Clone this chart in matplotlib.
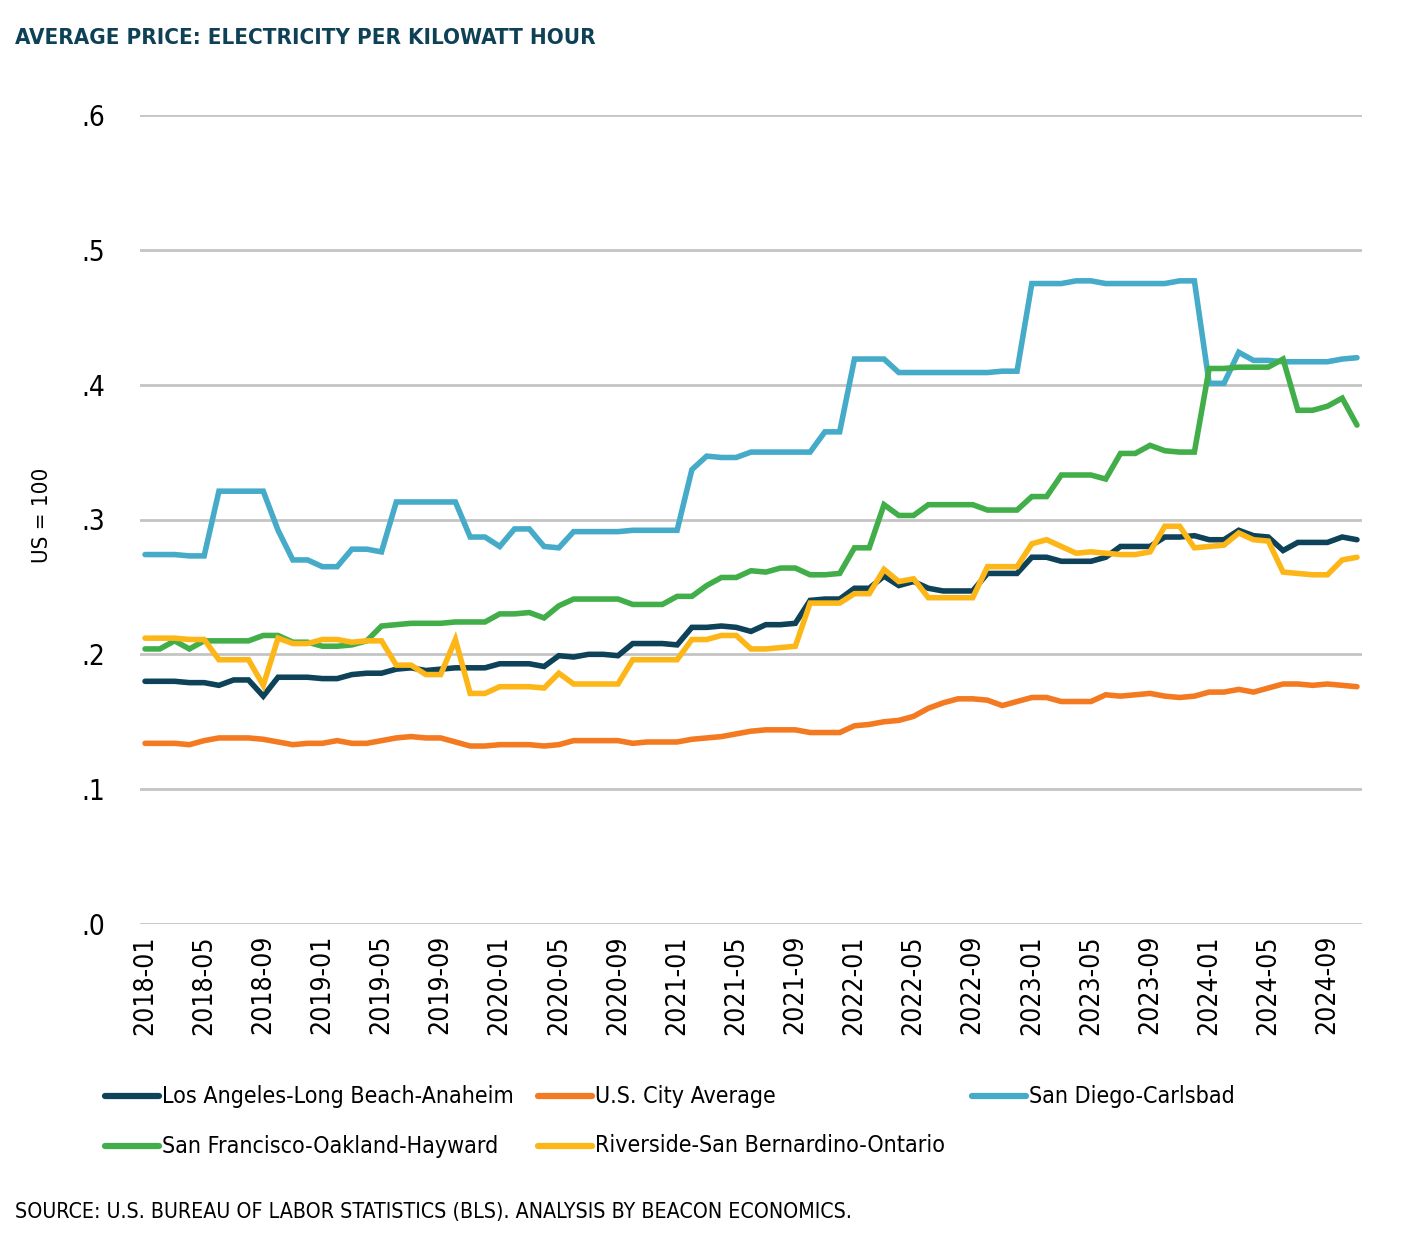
import numpy as np
import matplotlib
matplotlib.use("Agg")
import matplotlib.pyplot as plt
from matplotlib import font_manager
from matplotlib.lines import Line2D

# --- data (2018-01 .. 2024-11, monthly, $ per kWh) ---
months = [f"{y}-{m:02d}" for y in range(2018, 2025) for m in range(1, 13)][:83]

la = [.180, .180, .180, .179, .179, .177, .181, .181, .169, .183, .183, .183, .182, .182,
      .185, .186, .186, .189, .190, .188, .189, .190, .190, .190, .193, .193, .193, .191,
      .199, .198, .200, .200, .199, .208, .208, .208, .207, .220, .220, .221, .220, .217,
      .222, .222, .223, .240, .241, .241, .249, .249, .258, .251, .254, .249, .247, .247,
      .247, .260, .260, .260, .272, .272, .269, .269, .269, .272, .280, .280, .280, .287,
      .287, .288, .285, .285, .292, .288, .287, .277, .283, .283, .283, .287, .285]

us = [.134, .134, .134, .133, .136, .138, .138, .138, .137, .135, .133, .134, .134, .136,
      .134, .134, .136, .138, .139, .138, .138, .135, .132, .132, .133, .133, .133, .132,
      .133, .136, .136, .136, .136, .134, .135, .135, .135, .137, .138, .139, .141, .143,
      .144, .144, .144, .142, .142, .142, .147, .148, .150, .151, .154, .160, .164, .167,
      .167, .166, .162, .165, .168, .168, .165, .165, .165, .170, .169, .170, .171, .169,
      .168, .169, .172, .172, .174, .172, .175, .178, .178, .177, .178, .177, .176]

sd = [.274, .274, .274, .273, .273, .321, .321, .321, .321, .292, .270, .270, .265, .265,
      .278, .278, .276, .313, .313, .313, .313, .313, .287, .287, .280, .293, .293, .280,
      .279, .291, .291, .291, .291, .292, .292, .292, .292, .337, .347, .346, .346, .350,
      .350, .350, .350, .350, .365, .365, .419, .419, .419, .409, .409, .409, .409, .409,
      .409, .409, .410, .410, .475, .475, .475, .477, .477, .475, .475, .475, .475, .475,
      .477, .477, .401, .401, .424, .418, .418, .417, .417, .417, .417, .419, .420]

sf = [.204, .204, .210, .204, .210, .210, .210, .210, .214, .214, .209, .209, .206, .206,
      .207, .210, .221, .222, .223, .223, .223, .224, .224, .224, .230, .230, .231, .227,
      .236, .241, .241, .241, .241, .237, .237, .237, .243, .243, .251, .257, .257, .262,
      .261, .264, .264, .259, .259, .260, .279, .279, .311, .303, .303, .311, .311, .311,
      .311, .307, .307, .307, .317, .317, .333, .333, .333, .330, .349, .349, .355, .351,
      .350, .350, .412, .412, .413, .413, .413, .419, .381, .381, .384, .390, .370]

rv = [.212, .212, .212, .211, .211, .196, .196, .196, .177, .212, .208, .208, .211, .211,
      .209, .210, .210, .192, .192, .185, .185, .211, .171, .171, .176, .176, .176, .175,
      .186, .178, .178, .178, .178, .196, .196, .196, .196, .211, .211, .214, .214, .204,
      .204, .205, .206, .238, .238, .238, .245, .245, .263, .254, .256, .242, .242, .242,
      .242, .265, .265, .265, .282, .285, .280, .275, .276, .275, .274, .274, .276, .295,
      .295, .279, .280, .281, .290, .285, .284, .261, .260, .259, .259, .270, .272]

names = ["Los Angeles-Long Beach-Anaheim", "U.S. City Average", "San Diego-Carlsbad",
         "San Francisco-Oakland-Hayward", "Riverside-San Bernardino-Ontario"]
colors = ["#0d4258", "#f47a22", "#45abc8", "#42ae4a", "#fdb618"]
yticks = [0, .1, .2, .3, .4, .5, .6]

# --- font: narrow if we have one ---
have = {f.name for f in font_manager.fontManager.ttflist}
NARROW = "Liberation Sans Narrow" if "Liberation Sans Narrow" in have else "DejaVu Sans"
plt.rcParams["font.family"] = [NARROW, "DejaVu Sans"]
plt.rcParams["font.stretch"] = "condensed"

fig = plt.figure(figsize=(14.06, 12.5), dpi=100)
W, H = 1406, 1250
ax = fig.add_axes([140 / W, 1 - 924 / H, (1362 - 140) / W, (924 - 115) / H])

x = np.arange(len(months))
for vals, c in zip([la, us, sd, sf, rv], colors):
    ax.plot(x, vals, color=c, lw=4, solid_capstyle="round", solid_joinstyle="miter")

ax.set_xlim(-0.34, 82.34)
ax.set_ylim(0, 0.6)
ax.set_yticks(yticks)
ax.set_yticklabels([f"{v:.1f}".lstrip("0") for v in yticks])
ax.set_xticks(x[::4])
ax.set_xticklabels(months[::4], rotation=90)
ax.grid(axis="y", color="#c4c4c4", lw=2)
ax.set_axisbelow(True)
for s in ax.spines.values():
    s.set_visible(False)
ax.tick_params(axis="y", length=0, pad=25, labelsize=20)
ax.tick_params(axis="x", length=0, pad=8, labelsize=19)

fig.text(42 / W, 1 - 515 / H, "US = 100", rotation=90, ha="center", va="center", fontsize=16)
fig.text(15 / W, 1 - 38 / H, "AVERAGE PRICE: ELECTRICITY PER KILOWATT HOUR",
         fontsize=16, fontweight="bold", color="#0e4056", ha="left", va="center")
fig.text(15 / W, 1 - 1212 / H,
         "SOURCE: U.S. BUREAU OF LABOR STATISTICS (BLS). ANALYSIS BY BEACON ECONOMICS.",
         fontsize=15.3, ha="left", va="center")

# legend, laid out by hand in three columns
spots = [(105, 1096), (538, 1096), (972, 1096), (105, 1146), (538, 1146)]
for (px, py), name, c in zip(spots, names, colors):
    yy = 1 - py / H
    fig.add_artist(Line2D([px / W, (px + 54) / W], [yy, yy], color=c, lw=4.5,
                          solid_capstyle="round", transform=fig.transFigure))
    fig.text((px + 57) / W, yy, name, fontsize=16.7, ha="left", va="center")

fig.savefig("out.png", dpi=100)
